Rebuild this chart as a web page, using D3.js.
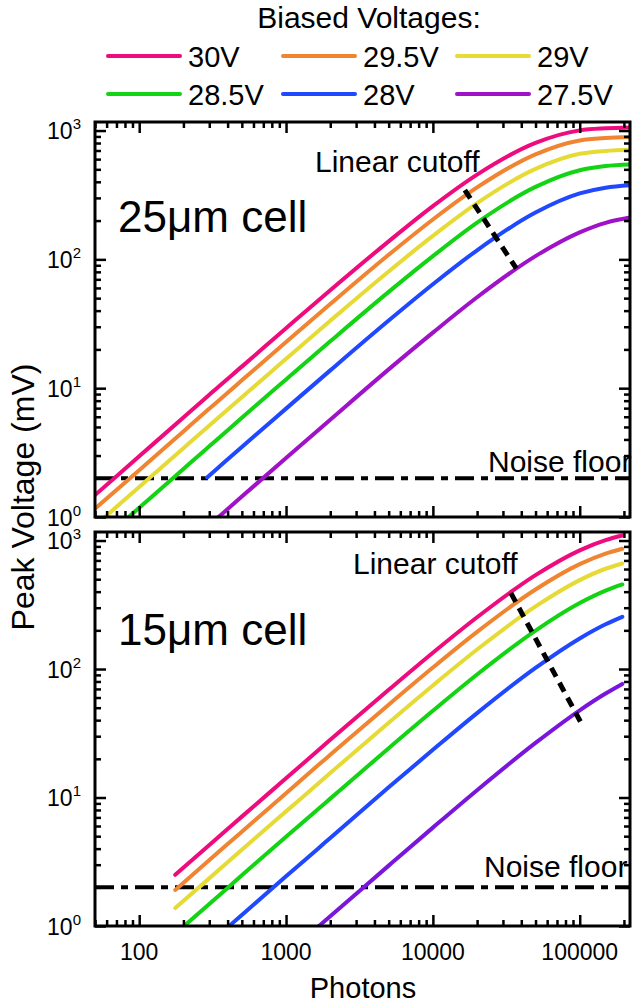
<!DOCTYPE html>
<html>
<head>
<meta charset="utf-8">
<script src="https://cdn.jsdelivr.net/npm/d3@7"></script>
<style>
  body { margin: 0; background: #fff; }
  svg text { font-family: "Liberation Sans", Arial, sans-serif; fill: #000; }
</style>
</head>
<body>
<svg id="chart"></svg>
<script>
// ---- data ----
const voltages = ["30V", "29.5V", "29V", "28.5V", "28V", "27.5V"];
const colors = ["#ee0b7d", "#f08431", "#e6da35", "#12d412", "#1f48ff", "#a012c8"];

// 25um cell (top panel)
const cell25Photons = [50, 100, 200, 290, 330, 500, 1000, 2000, 5000, 10000, 20000, 50000, 100000, 150000, 220000];
const cell25Values = [
  [1.48, 2.96, 5.92, 8.58, 9.77, 14.7, 29.2, 57.6, 138, 259, 455, 802, 1003, 1040, 1055],
  [1.16, 2.31, 4.62, 6.70, 7.62, 11.5, 22.8, 45.0, 108.5, 204, 362, 654, 838, 875, 890],
  [0.855, 1.71, 3.42, 4.96, 5.64, 8.5, 16.9, 33.4, 80.6, 152, 273, 504, 660, 695, 710],
  [0.59, 1.18, 2.36, 3.42, 3.89, 5.9, 11.7, 23.1, 55.9, 106, 193, 365, 492, 530, 545],
  [null, null, null, 2.03, 2.31, 3.5, 6.94, 13.75, 33.5, 64.1, 117.6, 231, 325, 360, 376],
  [null, null, null, null, 0.95, 1.44, 2.87, 5.69, 14.0, 27.0, 50.8, 106, 162, 192, 211]
];
const cell25Cutoff = [[16500, 345], [37000, 85]];

// 15um cell (bottom panel)
const cell15Photons = [176, 190, 400, 500, 1000, 1650, 2000, 5000, 10000, 20000, 50000, 100000, 150000, 195000];
const cell15Values = [
  [2.50, 2.70, 5.68, 7.1, 14.1, 23.2, 28.1, 68.9, 134, 253, 538, 839, 1007, 1094],
  [1.91, 2.06, 4.34, 5.42, 10.8, 17.8, 21.5, 52.8, 102.7, 194.6, 416, 655, 791, 863],
  [1.38, 1.49, 3.13, 3.92, 7.8, 12.8, 15.5, 38.2, 74.5, 141.8, 307, 492, 603, 663],
  [null, 0.94, 1.98, 2.48, 4.95, 8.1, 9.8, 24.2, 47.3, 90.6, 199, 326, 407, 455],
  [null, null, 0.976, 1.22, 2.44, 4.0, 4.85, 12.0, 23.5, 45.4, 102, 173, 223, 255],
  [null, null, null, null, null, 0.985, 1.19, 2.95, 5.83, 11.4, 26.6, 47.7, 64.4, 76.5]
];
const cell15Cutoff = [[34000, 390], [105000, 36]];
// the lowest curve is drawn a bluer violet in the lower panel
const cell15Colors = ["#ee0b7d", "#f08431", "#e6da35", "#12d412", "#1f48ff", "#7a16dc"];

const noiseFloor = 2;
const xMajor = [100, 1000, 10000, 100000];
const xMajorLabels = ["100", "1000", "10000", "100000"];
const yMajor = [1, 10, 100, 1000];
const yMajorExp = ["0", "1", "2", "3"];

// ---- layout ----
const width = 633, height = 1004;
const left = 95, right = 630;

const svg = d3.select("#chart")
  .attr("width", width)
  .attr("height", height)
  .attr("viewBox", `0 0 ${width} ${height}`);

const xScale = d3.scaleLog().domain([50, 220000]).range([left, right]);

function minorTicks(lo, hi) {
  const out = [];
  for (let d = 10; d <= 1e6; d *= 10) {
    for (let m = 1; m < 10; m++) {
      const v = m * d / 10;
      if (v >= lo && v <= hi) out.push(v);
    }
  }
  return out;
}

const panels = [
  { top: 122, bottom: 517, photons: cell25Photons, values: cell25Values, cutoff: cell25Cutoff, colors: colors,
    label: "25μm cell", labelY: 232, cutX: 315, cutY: 172, noiseX: 488, noiseY: 472, xLabels: false },
  { top: 532, bottom: 926, photons: cell15Photons, values: cell15Values, cutoff: cell15Cutoff, colors: cell15Colors,
    label: "15μm cell", labelY: 645, cutX: 353, cutY: 574, noiseX: 484, noiseY: 877, xLabels: true }
];

panels.forEach((p, i) => {
  const yScale = d3.scaleLog().domain([1, 1165]).range([p.bottom, p.top]);
  const g = svg.append("g");

  // clip to the frame
  g.append("clipPath").attr("id", "clip" + i)
    .append("rect")
    .attr("x", left).attr("y", p.top)
    .attr("width", right - left).attr("height", p.bottom - p.top);

  const plot = g.append("g").attr("clip-path", `url(#clip${i})`);

  // noise floor
  plot.append("line")
    .attr("x1", left).attr("x2", right)
    .attr("y1", yScale(noiseFloor)).attr("y2", yScale(noiseFloor))
    .attr("stroke", "#000")
    .attr("stroke-width", 4)
    .attr("stroke-dasharray", "19,7,7,7");

  // curves
  const line = d3.line()
    .defined(d => d[1] != null)
    .x(d => xScale(d[0]))
    .y(d => yScale(d[1]))
    .curve(d3.curveMonotoneX);

  p.values.forEach((vals, s) => {
    const pts = p.photons.map((n, k) => [n, vals[k]]);
    plot.append("path")
      .attr("d", line(pts))
      .attr("fill", "none")
      .attr("stroke", p.colors[s])
      .attr("stroke-width", 4)
      .attr("stroke-linecap", "round");
  });

  // linear cutoff
  plot.append("line")
    .attr("x1", xScale(p.cutoff[0][0])).attr("y1", yScale(p.cutoff[0][1]))
    .attr("x2", xScale(p.cutoff[1][0])).attr("y2", yScale(p.cutoff[1][1]))
    .attr("stroke", "#000")
    .attr("stroke-width", 5)
    .attr("stroke-dasharray", "10,7");

  // annotations
  g.append("text")
    .attr("x", p.noiseX).attr("y", p.noiseY)
    .style("font-size", "30px")
    .text("Noise floor");
  g.append("text")
    .attr("x", p.cutX).attr("y", p.cutY)
    .style("font-size", "30px")
    .text("Linear cutoff");
  g.append("text")
    .attr("x", 118).attr("y", p.labelY)
    .style("font-size", "44px")
    .text(p.label);

  // ticks, inward on all four sides
  const xMinor = minorTicks(50, 220000).filter(v => !xMajor.includes(v));
  const yMinor = minorTicks(1, 1165).filter(v => !yMajor.includes(v));
  const tickStyle = sel => {
    sel.select(".domain").remove();
    sel.selectAll("line").attr("stroke", "#000").attr("stroke-width", 2.5);
    sel.selectAll("text").remove();
  };

  const axes = [
    [d3.axisBottom(xScale), `translate(0,${p.bottom})`, xMajor, xMinor],
    [d3.axisTop(xScale), `translate(0,${p.top})`, xMajor, xMinor],
    [d3.axisLeft(yScale), `translate(${left},0)`, yMajor, yMinor],
    [d3.axisRight(yScale), `translate(${right},0)`, yMajor, yMinor]
  ];
  axes.forEach(([ax, tr, major, minor]) => {
    g.append("g").attr("transform", tr)
      .call(ax.tickValues(major).tickSize(-11).tickFormat(""))
      .call(tickStyle);
    g.append("g").attr("transform", tr)
      .call(ax.tickValues(minor).tickSize(-6).tickFormat(""))
      .call(tickStyle);
  });

  // frame
  g.append("rect")
    .attr("x", left).attr("y", p.top)
    .attr("width", right - left).attr("height", p.bottom - p.top)
    .attr("fill", "none")
    .attr("stroke", "#000")
    .attr("stroke-width", 3);

  // y tick labels 10^n
  yMajor.forEach((v, k) => {
    const t = g.append("text")
      .attr("x", 81).attr("y", yScale(v) + 8.5)
      .attr("text-anchor", "end")
      .style("font-size", "23px");
    t.append("tspan").text("10");
    t.append("tspan").attr("dy", -10).style("font-size", "15px").text(yMajorExp[k]);
  });

  if (p.xLabels) {
    xMajor.forEach((v, k) => {
      g.append("text")
        .attr("x", xScale(v)).attr("y", 960)
        .attr("text-anchor", "middle")
        .style("font-size", "23px")
        .text(xMajorLabels[k]);
    });
  }
});

// axis titles
svg.append("text")
  .attr("x", 363).attr("y", 998)
  .attr("text-anchor", "middle")
  .style("font-size", "29px")
  .text("Photons");

svg.append("text")
  .attr("transform", "translate(34,497) rotate(-90)")
  .attr("text-anchor", "middle")
  .style("font-size", "32px")
  .text("Peak Voltage (mV)");

// legend
svg.append("text")
  .attr("x", 369).attr("y", 28)
  .attr("text-anchor", "middle")
  .style("font-size", "30px")
  .text("Biased Voltages:");

const legendCols = [108, 283, 457];
const legendRows = [56, 94];
const legend = svg.append("g");
voltages.forEach((v, s) => {
  const cx = legendCols[s % 3];
  const cy = legendRows[Math.floor(s / 3)];
  legend.append("line")
    .attr("x1", cx).attr("x2", cx + 72)
    .attr("y1", cy).attr("y2", cy)
    .attr("stroke", colors[s])
    .attr("stroke-width", 4)
    .attr("stroke-linecap", "round");
  legend.append("text")
    .attr("x", cx + 80).attr("y", cy + 11)
    .style("font-size", "29px")
    .text(v);
});
</script>
</body>
</html>
